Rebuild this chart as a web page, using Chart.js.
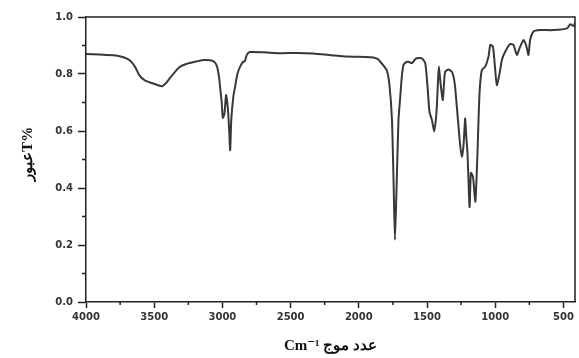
<!DOCTYPE html>
<html>
<head>
<meta charset="utf-8">
<script src="https://cdn.jsdelivr.net/npm/chart.js@4"></script>
<style>
    html, body { margin: 0; padding: 0; background: #fff; }
    #wrap { width: 579px; height: 358px; position: relative; }
</style>
</head>
<body>
<div id="wrap"><canvas id="irChart"></canvas></div>
<script>
/* ========================================
   IR spectrum - transmittance vs wavenumber
   ======================================== */

const wavenumbers = [
    4000, 3900, 3800, 3770, 3720, 3680, 3640, 3610, 3570, 3530, 3480, 3442, 3410, 3384, 3340, 3310,
    3260, 3200, 3140, 3090, 3060, 3039, 3025, 3017, 3005, 2997, 2985, 2973, 2960, 2950, 2943, 2935,
    2920, 2907, 2890, 2870, 2848, 2835, 2821, 2800, 2700, 2577, 2450, 2335, 2200, 2087, 1950, 1894,
    1860, 1843, 1820, 1794, 1775, 1757, 1745, 1735, 1722, 1709, 1696, 1685, 1672, 1648, 1630, 1611,
    1590, 1575, 1538, 1513, 1496, 1482, 1464, 1447, 1435, 1428, 1418, 1413, 1405, 1398, 1384, 1375,
    1367, 1342, 1318, 1305, 1294, 1277, 1257, 1244, 1233, 1226, 1220, 1212, 1203, 1188, 1178, 1163,
    1146, 1138, 1130, 1115, 1098, 1073, 1049, 1036, 1017, 1008, 1000, 988, 968, 951, 927, 890,
    866, 841, 822, 793, 774, 756, 744, 719, 671, 573, 473, 449, 425, 415
];
const transmittance = [
    0.870, 0.868, 0.866, 0.864, 0.858, 0.848, 0.825, 0.796, 0.778, 0.770, 0.762, 0.757, 0.770, 0.786, 0.812, 0.826,
    0.836, 0.843, 0.849, 0.848, 0.843, 0.826, 0.790, 0.755, 0.700, 0.646, 0.660, 0.726, 0.680, 0.600, 0.533, 0.640,
    0.720, 0.755, 0.800, 0.826, 0.843, 0.845, 0.867, 0.877, 0.876, 0.873, 0.874, 0.872, 0.866, 0.861, 0.860, 0.858,
    0.852, 0.843, 0.830, 0.812, 0.760, 0.640, 0.420, 0.218, 0.420, 0.640, 0.720, 0.790, 0.832, 0.843, 0.842, 0.838,
    0.850, 0.855, 0.855, 0.838, 0.755, 0.667, 0.639, 0.598, 0.640, 0.685, 0.790, 0.826, 0.790, 0.755, 0.709, 0.770,
    0.808, 0.816, 0.808, 0.790, 0.755, 0.661, 0.551, 0.510, 0.545, 0.600, 0.644, 0.580, 0.522, 0.334, 0.453, 0.440,
    0.352, 0.420, 0.522, 0.732, 0.814, 0.826, 0.861, 0.902, 0.896, 0.860, 0.814, 0.761, 0.802, 0.849, 0.878, 0.905,
    0.902, 0.867, 0.890, 0.919, 0.902, 0.867, 0.919, 0.949, 0.954, 0.954, 0.960, 0.975, 0.968, 0.980
];

const xTicks = [4000, 3500, 3000, 2500, 2000, 1500, 1000, 500];
const xMinorTicks = [3750, 3250, 2750, 2250, 1750, 1250, 750];
const yTicks = [0.0, 0.2, 0.4, 0.6, 0.8, 1.0];
const yMinorTicks = [0.1, 0.3, 0.5, 0.7, 0.9];

const xTitle = 'Cm\u207B\u00B9 عدد موج';
const yTitle = '   عبورT%';

document.addEventListener('DOMContentLoaded', function() {
    drawSpectrum();
});

// draws top/right frame lines plus the little minor ticks
const framePlugin = {
    id: 'frame',
    afterDraw(chart) {
        const ctx = chart.ctx;
        const area = chart.chartArea;
        const xs = chart.scales.x;
        const ys = chart.scales.y;
        ctx.save();
        ctx.strokeStyle = '#222';
        ctx.lineWidth = 1.5;
        ctx.beginPath();
        ctx.moveTo(area.left, area.top);
        ctx.lineTo(area.right, area.top);
        ctx.lineTo(area.right, area.bottom);
        ctx.stroke();

        ctx.beginPath();
        xMinorTicks.forEach(v => {
            const px = xs.getPixelForValue(v);
            ctx.moveTo(px, area.bottom);
            ctx.lineTo(px, area.bottom + 3);
        });
        yMinorTicks.forEach(v => {
            const py = ys.getPixelForValue(v);
            ctx.moveTo(area.left, py);
            ctx.lineTo(area.left - 4, py);
        });
        ctx.stroke();
        ctx.restore();
    }
};

function drawSpectrum() {
    const ctx = document.getElementById('irChart');
    if (!ctx) return;

    const points = wavenumbers.map((w, i) => ({ x: w, y: transmittance[i] }));
    const tickFont = { family: "'DejaVu Sans', sans-serif", size: 10, weight: 'bold' };
    const titleFont = { family: "'Liberation Serif', 'DejaVu Serif', serif", size: 15, weight: 'bold' };

    new Chart(ctx, {
        type: 'line',
        data: {
            datasets: [{
                data: points,
                borderColor: '#383838',
                borderWidth: 2,
                pointRadius: 0,
                tension: 0.2,
                fill: false
            }]
        },
        options: {
            responsive: true,
            maintainAspectRatio: false,
            animation: false,
            layout: { padding: { left: 0, right: 4, top: 17, bottom: 0 } },
            plugins: {
                legend: { display: false },
                tooltip: { enabled: false }
            },
            scales: {
                x: {
                    type: 'linear',
                    reverse: true,
                    min: 415,
                    max: 4000,
                    afterBuildTicks: scale => { scale.ticks = xTicks.map(v => ({ value: v })); },
                    afterFit: scale => { scale.height = 56; },
                    ticks: {
                        color: '#333',
                        font: tickFont,
                        padding: 3,
                        maxRotation: 0,
                        autoSkip: false,
                        callback: value => String(value)
                    },
                    grid: {
                        drawOnChartArea: false,
                        drawTicks: true,
                        tickLength: 6,
                        tickColor: '#222',
                        tickWidth: 1.5
                    },
                    border: { color: '#222', width: 1.5 },
                    title: {
                        display: true,
                        text: xTitle,
                        color: '#111',
                        font: titleFont,
                        padding: { top: 0, bottom: 3 }
                    }
                },
                y: {
                    min: 0,
                    max: 1,
                    afterBuildTicks: scale => { scale.ticks = yTicks.map(v => ({ value: v })); },
                    afterFit: scale => { scale.width = 86; },
                    ticks: {
                        color: '#333',
                        font: tickFont,
                        padding: 5,
                        callback: value => Number(value).toFixed(1)
                    },
                    grid: {
                        drawOnChartArea: false,
                        drawTicks: true,
                        tickLength: 8,
                        tickColor: '#222',
                        tickWidth: 1.5
                    },
                    border: { color: '#222', width: 1.5 },
                    title: {
                        display: true,
                        text: yTitle,
                        color: '#111',
                        font: { family: "'Liberation Serif', 'DejaVu Serif', serif", size: 15, weight: 'bold' },
                        padding: { top: 19, bottom: 0 }
                    }
                }
            }
        },
        plugins: [framePlugin]
    });
}
</script>
</body>
</html>
